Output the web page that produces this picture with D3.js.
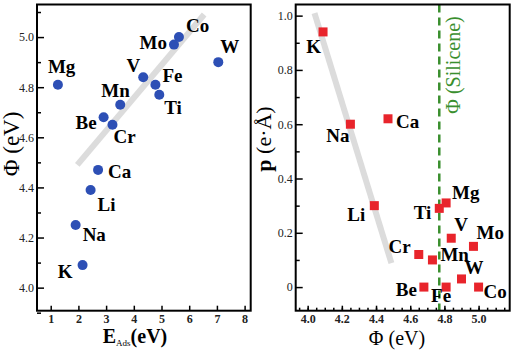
<!DOCTYPE html>
<html>
<head>
<meta charset="utf-8">
<script src="https://cdn.jsdelivr.net/npm/d3@7"></script>
<style>
  body { margin: 0; background: #fff; }
  svg { display: block; font-family: "Liberation Serif", "Times New Roman", serif; }
</style>
</head>
<body>
<svg id="chart" width="516" height="352"></svg>
<script>
// ===========================
// Data
// ===========================
const elements = ["Mg", "Co", "Mo", "W", "V", "Fe", "Ti", "Mn", "Be", "Cr", "Ca", "Li", "Na", "K"];
const eAds     = [1.26, 5.63, 5.45, 7.05, 4.34, 4.78, 4.92, 3.51, 2.91, 3.23, 2.71, 2.44, 1.90, 2.15];
const workFn   = [4.81, 5.00, 4.97, 4.90, 4.84, 4.81, 4.77, 4.73, 4.68, 4.65, 4.47, 4.39, 4.25, 4.09];
const dipole   = [0.31, 0.00, 0.15, 0.03, 0.18, 0.00, 0.29, 0.10, 0.00, 0.12, 0.62, 0.30, 0.60, 0.94];

// gray guide lines (data coords)
const fitLeft  = [[1.96, 4.49], [6.54, 5.09]];
const fitRight = [[4.04, 1.009], [4.49, 0.088]];
const phiSilicene = 4.77;

// tick values
const leftXTicks  = [1, 2, 3, 4, 5, 6, 7, 8];
const leftYTicks  = [4.0, 4.2, 4.4, 4.6, 4.8, 5.0];
const leftYMinor  = [3.9, 4.1, 4.3, 4.5, 4.7, 4.9, 5.1];
const rightXTicks = [4.0, 4.2, 4.4, 4.6, 4.8, 5.0];
const rightYTicks = [0, 0.2, 0.4, 0.6, 0.8, 1.0];
const rightYMinor = [0.1, 0.3, 0.5, 0.7, 0.9];

const points = elements.map((el, i) => ({ el, eAds: eAds[i], phi: workFn[i], p: dipole[i] }));

// label placement (offset from marker, px) — layout only
const labelLeft = {
  Mg: [-10, -12, "start"], Co: [7, -5, "start"], Mo: [-7, 4, "end"], W: [2, -9, "start"],
  V: [-3, -5, "end"], Fe: [7, -3, "start"], Ti: [5, 19, "start"], Mn: [-19, -8, "start"],
  Be: [-7, 12, "end"], Cr: [1, 18, "start"], Ca: [10, 8, "start"], Li: [7, 21, "start"],
  Na: [7, 16, "start"], K: [-10, 13, "end"]
};
const labelRight = {
  K: [-2, 21, "end"], Na: [-1, 18, "end"], Ca: [8, 9, "start"], Li: [-9, 15, "end"],
  Ti: [-8, 11, "end"], Mg: [6, -4, "start"], V: [3, -7, "start"], Mo: [3, -7, "start"],
  Cr: [-8, -2, "end"], Mn: [8, 1, "start"], W: [3, -5, "start"], Be: [-7, 9, "end"],
  Fe: [-15, 15, "start"], Co: [5, 11, "start"]
};

const svg = d3.select("#chart");
const plotTop = 4.5, plotBottom = 310.7;

// ===========================
// Left panel: Phi vs E_Ads
// ===========================
const xL = d3.scaleLinear().domain([0.505, 8.22]).range([37, 250.7]);
const yL = d3.scaleLinear().domain([3.908, 5.13]).range([plotBottom, plotTop]);

const gL = svg.append("g");

// fit line
gL.append("line")
  .attr("x1", xL(fitLeft[0][0])).attr("y1", yL(fitLeft[0][1]))
  .attr("x2", xL(fitLeft[1][0])).attr("y2", yL(fitLeft[1][1]))
  .attr("stroke", "#dcdcdc").attr("stroke-width", 6);

// axes
gL.append("g").attr("transform", `translate(37,0)`)
  .call(d3.axisLeft(yL).tickValues(leftYTicks).tickFormat(d3.format(".1f")).tickSize(-7).tickPadding(3));
gL.append("g").attr("transform", `translate(37,0)`)
  .call(d3.axisLeft(yL).tickValues(leftYMinor).tickFormat("").tickSize(-4));
gL.append("g").attr("class", "boldx").attr("transform", `translate(0,${plotBottom})`)
  .call(d3.axisBottom(xL).tickValues(leftXTicks).tickFormat(d3.format("d")).tickSize(-5).tickPadding(4));

// points
gL.selectAll("circle").data(points).enter().append("circle")
  .attr("cx", d => xL(d.eAds)).attr("cy", d => yL(d.phi))
  .attr("r", 5).attr("fill", "#2d4fb5");

gL.selectAll(".lbl").data(points).enter().append("text")
  .attr("class", "lbl")
  .attr("x", d => xL(d.eAds) + labelLeft[d.el][0])
  .attr("y", d => yL(d.phi) + labelLeft[d.el][1])
  .attr("text-anchor", d => labelLeft[d.el][2])
  .style("font-size", "19px").style("font-weight", "bold")
  .text(d => d.el);

// frame
gL.append("rect").attr("x", 37).attr("y", plotTop).attr("width", 250.7 - 37).attr("height", plotBottom - plotTop)
  .attr("fill", "none").attr("stroke", "#000").attr("stroke-width", 2);

// titles
gL.append("text")
  .attr("transform", `translate(19,144) rotate(-90)`)
  .attr("text-anchor", "middle").style("font-size", "23px")
  .text("Φ (eV)");

const xt = gL.append("text").attr("x", 135).attr("y", 343).attr("text-anchor", "middle")
  .style("font-size", "20px").style("font-weight", "bold");
xt.append("tspan").text("E");
xt.append("tspan").attr("dy", 3).style("font-size", "9px").style("font-weight", "normal").text("Ads");
xt.append("tspan").attr("dy", -3).text("(eV)");

// ===========================
// Right panel: p vs Phi
// ===========================
const xR = d3.scaleLinear().domain([3.930, 5.182]).range([295.7, 509.7]);
const yR = d3.scaleLinear().domain([-0.087, 1.041]).range([plotBottom, plotTop]);

const gR = svg.append("g");

gR.append("line")
  .attr("x1", xR(fitRight[0][0])).attr("y1", yR(fitRight[0][1]))
  .attr("x2", xR(fitRight[1][0])).attr("y2", yR(fitRight[1][1]))
  .attr("stroke", "#dcdcdc").attr("stroke-width", 6);

// silicene work function
gR.append("line")
  .attr("x1", xR(phiSilicene)).attr("x2", xR(phiSilicene))
  .attr("y1", plotTop).attr("y2", plotBottom)
  .attr("stroke", "#3a8f2e").attr("stroke-width", 2.5).attr("stroke-dasharray", "8,5");
gR.append("text")
  .attr("transform", `translate(${xR(phiSilicene) + 21},65) rotate(-90)`)
  .attr("text-anchor", "middle").style("font-size", "20px").attr("fill", "#3a8f2e")
  .text("Φ (Silicene)");

const minorX = d3.range(3.95, 5.18, 0.05).map(v => +v.toFixed(2));
gR.append("g").attr("transform", `translate(295.7,0)`)
  .call(d3.axisLeft(yR).tickValues(rightYTicks).tickFormat(d => d === 0 ? "0" : d3.format(".1f")(d)).tickSize(-7).tickPadding(3));
gR.append("g").attr("transform", `translate(295.7,0)`)
  .call(d3.axisLeft(yR).tickValues(rightYMinor).tickFormat("").tickSize(-4));
gR.append("g").attr("transform", `translate(0,${plotBottom})`)
  .call(d3.axisBottom(xR).tickValues(minorX).tickFormat("").tickSize(-3));
gR.append("g").attr("class", "boldx").attr("transform", `translate(0,${plotBottom})`)
  .call(d3.axisBottom(xR).tickValues(rightXTicks).tickFormat(d3.format(".1f")).tickSize(-5).tickPadding(4));

gR.selectAll("rect.pt").data(points).enter().append("rect")
  .attr("class", "pt")
  .attr("x", d => xR(d.phi) - 4.5).attr("y", d => yR(d.p) - 4.5)
  .attr("width", 9).attr("height", 9).attr("fill", "#e8242b");

gR.selectAll(".lbl").data(points).enter().append("text")
  .attr("class", "lbl")
  .attr("x", d => xR(d.phi) + labelRight[d.el][0])
  .attr("y", d => yR(d.p) + labelRight[d.el][1])
  .attr("text-anchor", d => labelRight[d.el][2])
  .style("font-size", "19px").style("font-weight", "bold")
  .text(d => d.el);

gR.append("rect").attr("x", 295.7).attr("y", plotTop).attr("width", 509.7 - 295.7).attr("height", plotBottom - plotTop)
  .attr("fill", "none").attr("stroke", "#000").attr("stroke-width", 2);

const yt = gR.append("text")
  .attr("transform", `translate(271,139) rotate(-90)`)
  .attr("text-anchor", "middle").style("font-size", "22px");
yt.append("tspan").style("font-weight", "bold").text("p");
yt.append("tspan").text(" (e·Å)");

gR.append("text").attr("x", 397).attr("y", 345).attr("text-anchor", "middle")
  .style("font-size", "20px").text("Φ (eV)");

// shared axis styling
svg.selectAll(".domain").remove();
svg.selectAll(".tick line").attr("stroke", "#000").attr("stroke-width", 1.5);
svg.selectAll(".tick text").attr("fill", "#222")
  .style("font-family", "'Liberation Serif', serif").style("font-size", "12px");
svg.selectAll(".boldx .tick text").style("font-weight", "bold");
</script>
</body>
</html>
